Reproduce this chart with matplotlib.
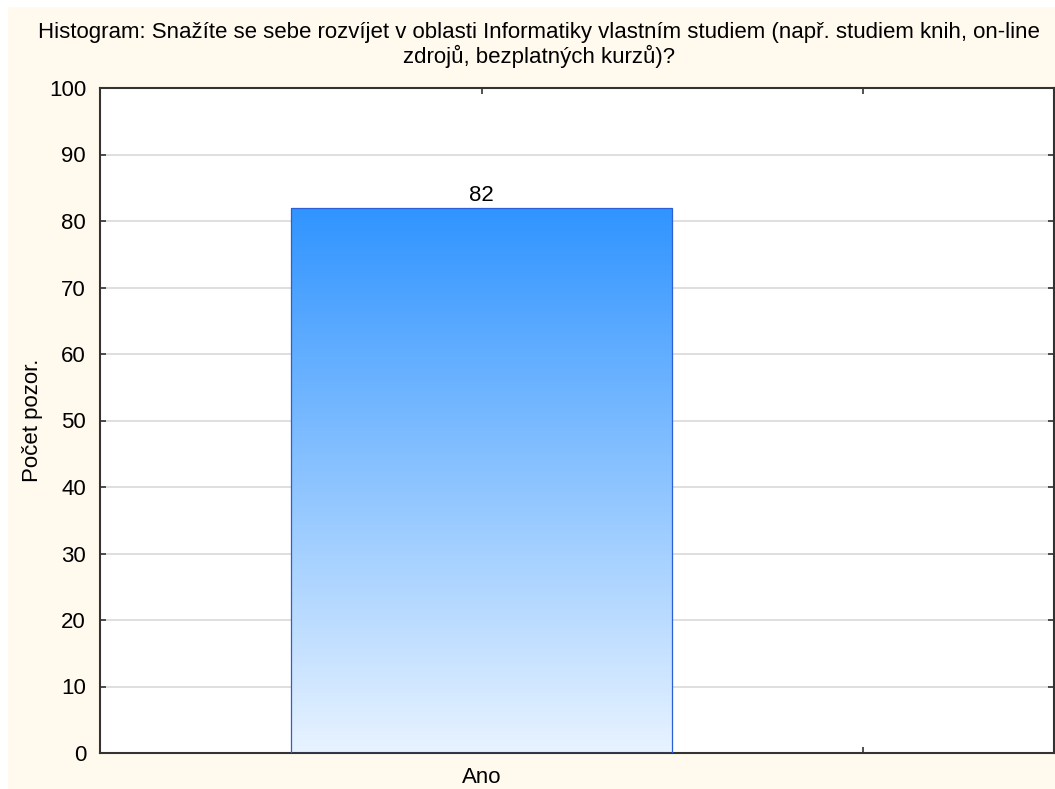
import numpy as np
import matplotlib
matplotlib.use('Agg')
import matplotlib.pyplot as plt
from matplotlib.colors import LinearSegmentedColormap
from matplotlib.patches import Rectangle

# === data ===
categories = ['Ano']
counts = [82]
tick_pos = [1, 2]
tick_labels = ['Ano', '']
yticks = list(range(0, 101, 10))

title = ('Histogram: Snažíte se sebe rozvíjet v oblasti Informatiky vlastním studiem (např. studiem knih, on-line\n'
         'zdrojů, bezplatných kurzů)?')

plt.rcParams['font.family'] = ['Liberation Sans', 'DejaVu Sans']
FS = 16

fig = plt.figure(figsize=(10.55, 7.89), dpi=100)
fig.patch.set_facecolor('white')
# cream background, white strip left/top
fig.patches.append(Rectangle((8/1055, -0.02), 1, 1.02 - 7/789, transform=fig.transFigure,
                             facecolor='#FFF9EE', edgecolor='none', zorder=-10))

ax = fig.add_axes([100/1055, 36/789, 954/1055, 665/789])
ax.set_facecolor('white')

bars = ax.bar([1], counts, width=1.0, facecolor='none', edgecolor='#2a5fd6', linewidth=0.9, zorder=3)

# gradient fill inside bar
cmap = LinearSegmentedColormap.from_list('blu', ['#E8F3FF', '#3094FF'])
grad = np.linspace(0, 1, 256).reshape(-1, 1)
for b in bars:
    x0, y0 = b.get_x(), b.get_y()
    w, h = b.get_width(), b.get_height()
    im = ax.imshow(grad, cmap=cmap, origin='lower', aspect='auto',
                   extent=(x0, x0 + w, y0, y0 + h), zorder=2)
    im.set_clip_path(b)
    ax.text(x0 + w / 2, h + 0.2, str(int(h)), ha='center', va='bottom', fontsize=FS)

ax.set_xlim(0, 2.5)
ax.set_ylim(0, 100)
ax.set_yticks(yticks)
ax.set_xticks(tick_pos)
ax.set_xticklabels(tick_labels)
ax.yaxis.grid(True, color='#d9d9d9', linewidth=1.2, zorder=0)
ax.set_axisbelow(True)
ax.tick_params(direction='in', length=4, width=1.2, labelsize=FS,
               top=True, right=True, color='#333333')
ax.tick_params(axis='y', pad=10)
ax.tick_params(axis='x', pad=10)
for s in ax.spines.values():
    s.set_linewidth(1.5)
    s.set_color('#333333')

ax.set_ylabel('Počet pozor.', fontsize=FS, labelpad=4)
fig.text(539/1055, 1 - 45/789, title, ha='center', va='center', fontsize=FS, linespacing=1.15)

fig.savefig('out.png', dpi=100, facecolor=fig.get_facecolor())
